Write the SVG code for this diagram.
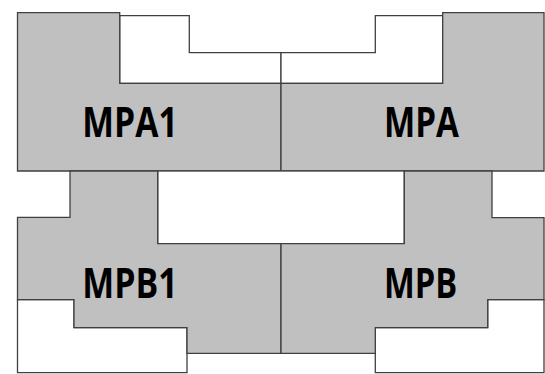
<svg xmlns="http://www.w3.org/2000/svg" width="545" height="374" viewBox="0 0 545 374">
<style>
.g{fill:#c0c0c0;stroke:#404040;stroke-width:1.3;stroke-linejoin:miter}
.w{fill:#ffffff;stroke:#404040;stroke-width:1.3}
.t{font-family:"Open Sans","Liberation Sans",sans-serif;font-weight:bold;font-size:41px;fill:#000}
</style>
<rect width="545" height="374" fill="#fff"/>
<g id="MPA1">
<polygon class="w" points="119.7,15.7 189.3,15.7 189.3,52.7 281,52.7 281,83.3 119.7,83.3"/>
<polygon class="g" points="17.5,12.7 119.7,12.7 119.7,83.3 281,83.3 281,171 17.5,171"/>
<text class="t" x="82.3" y="137.3" textLength="95.4" lengthAdjust="spacingAndGlyphs">MPA1</text>
</g>
<g id="MPA">
<polygon class="w" points="281,52.7 375.3,52.7 375.3,15.7 442.7,15.7 442.7,83.3 281,83.3"/>
<polygon class="g" points="281,83.3 442.7,83.3 442.7,12.7 544,12.7 544,171 281,171"/>
<text class="t" x="384" y="137.3" textLength="75" lengthAdjust="spacingAndGlyphs">MPA</text>
</g>
<g id="center">
<rect class="w" x="157.7" y="171" width="246.6" height="72.7"/>
</g>
<g id="MPB1">
<polygon class="w" points="17.5,299.7 74,299.7 74,327.7 187,327.7 187,372.7 17.5,372.7"/>
<polygon class="g" points="70,171 157.7,171 157.7,243.7 281,243.7 281,353.3 187,353.3 187,327.7 74,327.7 74,299.7 17.5,299.7 17.5,217.3 70,217.3"/>
<text class="t" x="82.3" y="297.7" textLength="95.4" lengthAdjust="spacingAndGlyphs">MPB1</text>
</g>
<g id="MPB">
<polygon class="w" points="375.3,327.7 487.7,327.7 487.7,299.7 544,299.7 544,372.7 375.3,372.7"/>
<polygon class="g" points="281,243.7 404.3,243.7 404.3,171 492,171 492,217.7 544,217.7 544,299.7 487.7,299.7 487.7,327.7 375.3,327.7 375.3,353.3 281,353.3"/>
<text class="t" x="384" y="297.7" textLength="73.3" lengthAdjust="spacingAndGlyphs">MPB</text>
</g>
</svg>
